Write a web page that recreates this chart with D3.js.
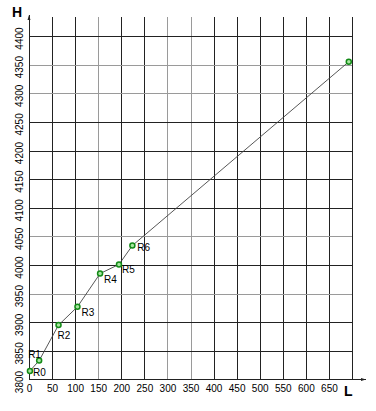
<!DOCTYPE html>
<html>
<head>
<meta charset="utf-8">
<script src="https://cdn.jsdelivr.net/npm/d3@7"></script>
<style>
  body { margin: 0; background: #fff; }
  svg { display: block; font-family: "Liberation Sans", Arial, sans-serif; }
  .grid line { shape-rendering: crispEdges; }
  .grid .domain { display: none; }
</style>
</head>
<body>
<div id="chart"></div>
<script>
      // data
      var pointNames = ["R0", "R1", "R2", "R3", "R4", "R5", "R6", ""];
      var lValues = [2, 22, 64, 105, 154, 195, 224, 693];
      var hValues = [3815, 3833, 3895, 3927, 3985, 4001, 4034, 4355];

      var xTicks = [0, 50, 100, 150, 200, 250, 300, 350, 400, 450, 500, 550, 600, 650];
      var xGrid = [50, 100, 150, 200, 250, 300, 350, 400, 450, 500, 550, 600, 650, 700];
      var yTicks = [3800, 3850, 3900, 3950, 4000, 4050, 4100, 4150, 4200, 4250, 4300, 4350, 4400];
      var xGrayLines = [150, 300, 350];
      var yGrayLines = [4350, 4300, 4050, 3950];

      var width = 376, height = 411;

      var svg = d3.select("#chart").append("svg")
          .attr("width", width)
          .attr("height", height);

      ////// Scales /////////
      var x = d3.scaleLinear().domain([0, 700]).range([29, 352]);
      var y = d3.scaleLinear().domain([3800, 4400]).range([379.5, 36]);
      var topY = 17;

      // vertical grid
      svg.append("g")
        .attr("class", "grid")
        .attr("transform", "translate(0," + y(3800) + ")")
        .call(d3.axisBottom(x).tickValues(xGrid).tickSize(-(y(3800) - topY)).tickFormat(""))
        .selectAll(".tick line")
        .attr("stroke", function(d) { return xGrayLines.indexOf(d) >= 0 ? "#9a9a9a" : "#222"; });

      // horizontal grid
      svg.append("g")
        .attr("class", "grid")
        .attr("transform", "translate(" + x(0) + ",0)")
        .call(d3.axisLeft(y).tickValues(yTicks.slice(1)).tickSize(-(x(700) - x(0))).tickFormat(""))
        .selectAll(".tick line")
        .attr("stroke", function(d) { return yGrayLines.indexOf(d) >= 0 ? "#9a9a9a" : "#222"; });

      // arrow marker
      svg.append("defs").append("marker")
        .attr("id", "arrow")
        .attr("viewBox", "0 0 10 10")
        .attr("refX", 10).attr("refY", 5)
        .attr("markerWidth", 7).attr("markerHeight", 5)
        .attr("orient", "auto")
        .append("path")
        .attr("d", "M0,2 L10,5 L0,8 Z")
        .attr("fill", "#222");

      // axes lines
      svg.append("line")
        .attr("x1", x(0)).attr("y1", y(3800))
        .attr("x2", 366).attr("y2", y(3800))
        .attr("stroke", "#222").attr("shape-rendering", "crispEdges")
        .attr("marker-end", "url(#arrow)");
      svg.append("line")
        .attr("x1", x(0)).attr("y1", y(3800))
        .attr("x2", x(0)).attr("y2", topY - 2)
        .attr("stroke", "#222").attr("shape-rendering", "crispEdges")
        .attr("marker-end", "url(#arrow)");

      // x tick labels
      var xAxis = svg.append("g")
        .attr("transform", "translate(0," + y(3800) + ")")
        .call(d3.axisBottom(x).tickValues(xTicks).tickFormat(d3.format("d")).tickSize(0).tickPadding(5));
      xAxis.select(".domain").remove();
      xAxis.selectAll("text")
        .attr("font-size", 10).attr("font-family", "Liberation Sans, Arial, sans-serif")
        .attr("fill", "#000").attr("dy", "0.71em");

      // y tick labels, rotated
      var yAxis = svg.append("g")
        .attr("transform", "translate(" + x(0) + ",0)")
        .call(d3.axisLeft(y).tickValues(yTicks).tickFormat(d3.format("d")).tickSize(0));
      yAxis.select(".domain").remove();
      yAxis.selectAll("text")
        .attr("font-size", 10).attr("font-family", "Liberation Sans, Arial, sans-serif")
        .attr("fill", "#000")
        .attr("text-anchor", "middle")
        .attr("transform", "rotate(-90)")
        .attr("x", -2).attr("y", -6.5).attr("dy", 0);

      // axis titles
      svg.append("text").attr("x", 12).attr("y", 17)
        .attr("font-size", 14).attr("font-weight", "bold").text("H");
      svg.append("text").attr("x", 344).attr("y", 396)
        .attr("font-size", 14).attr("font-weight", "bold").text("L");

      // curve
      var pts = lValues.map(function(l, i) { return {l: l, h: hValues[i], name: pointNames[i]}; });

      var line = d3.line()
        .x(function(d) { return x(d.l); })
        .y(function(d) { return y(d.h); });

      svg.append("path")
        .datum(pts)
        .attr("d", line)
        .attr("fill", "none")
        .attr("stroke", "#444")
        .attr("stroke-width", 0.9);

      svg.append("g").selectAll("circle")
        .data(pts)
        .enter()
        .append("circle")
        .attr("cx", function(d) { return x(d.l); })
        .attr("cy", function(d) { return y(d.h); })
        .attr("r", 2.5)
        .attr("fill", "#a8e6a0")
        .attr("stroke", "#138a17")
        .attr("stroke-width", 1.5);

      // label offsets (dx, dy) relative to each point
      var labelOffset = {
        R0: [3, 5], R1: [-11, -3], R2: [-1, 14], R3: [4, 9],
        R4: [4, 9], R5: [3, 9], R6: [5, 5]
      };

      svg.append("g").selectAll("text")
        .data(pts.filter(function(d) { return d.name; }))
        .enter()
        .append("text")
        .attr("x", function(d) { return x(d.l) + labelOffset[d.name][0]; })
        .attr("y", function(d) { return y(d.h) + labelOffset[d.name][1]; })
        .attr("font-size", 10)
        .attr("fill", "#000")
        .text(function(d) { return d.name; });
</script>
</body>
</html>
